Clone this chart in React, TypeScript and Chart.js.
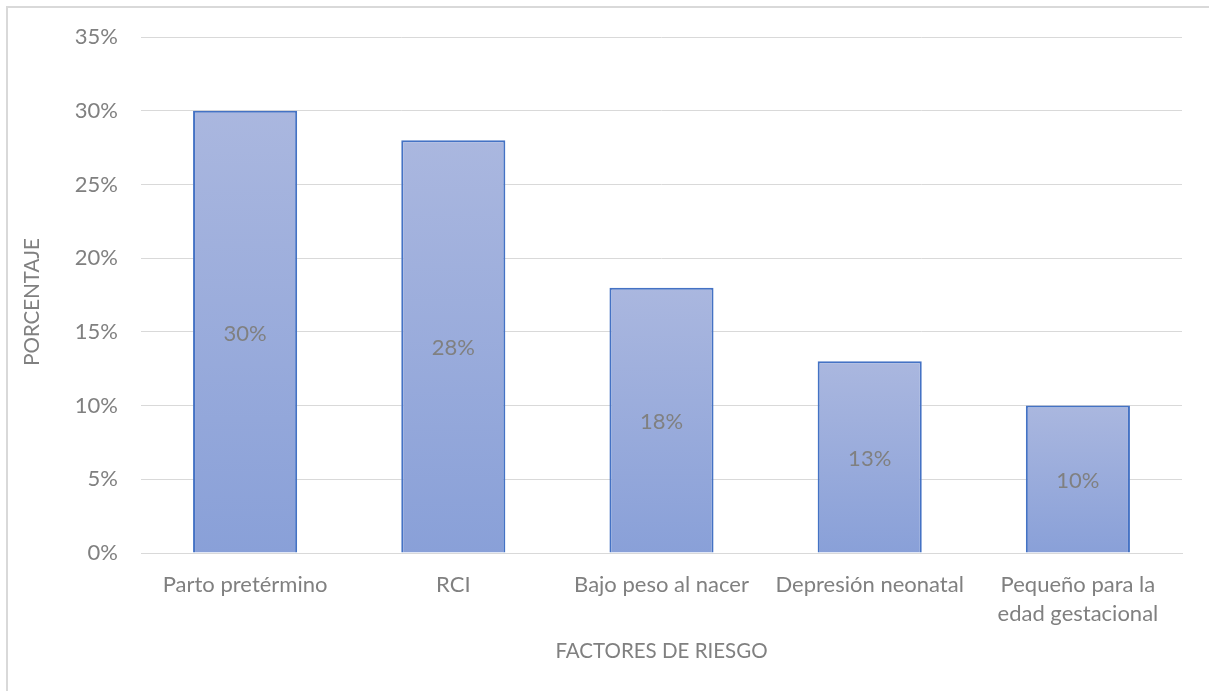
import React, { useEffect, useRef } from "react";
import { Chart, registerables } from "chart.js";

Chart.register(...registerables);

const categories: (string | string[])[] = [
  "Parto pretérmino",
  "RCI",
  "Bajo peso al nacer",
  "Depresión neonatal",
  ["Pequeño para la", "edad gestacional"],
];
const values: number[] = [30, 28, 18, 13, 10];
const yTicks: number[] = [0, 5, 10, 15, 20, 25, 30, 35];
const xTitle = "FACTORES DE RIESGO";
const yTitle = "PORCENTAJE";

const FONT = "Lato, 'Open Sans', sans-serif";
const TEXT = "#808080";
const FS = 22;
const TITLE_FS = 20.5;

const labelsPlugin = {
  id: "customLabels",
  afterDatasetsDraw(chart: any) {
    const ctx = chart.ctx;
    const meta = chart.getDatasetMeta(0);
    ctx.save();
    ctx.font = `${FS}px ${FONT}`;
    ctx.fillStyle = TEXT;
    ctx.textAlign = "center";
    ctx.textBaseline = "middle";
    meta.data.forEach((bar: any, i: number) => {
      const yMid = (bar.y + bar.base) / 2;
      ctx.fillText(values[i] + "%", bar.x, yMid + 2);
    });
    const ca = chart.chartArea;
    ctx.font = `${TITLE_FS}px ${FONT}`;
    ctx.fillText(xTitle, (ca.left + ca.right) / 2, 651);
    ctx.translate(32, 302);
    ctx.rotate(-Math.PI / 2);
    ctx.fillText(yTitle, 0, 0);
    ctx.restore();
  },
};

export default function App() {
  const ref = useRef<HTMLCanvasElement | null>(null);
  useEffect(() => {
    if (!ref.current) return;
    const chart = new Chart(ref.current, {
      type: "bar",
      data: {
        labels: categories,
        datasets: [
          {
            data: values,
            backgroundColor: (c: any) => {
              const chartObj = c.chart;
              const ys = chartObj.scales && chartObj.scales.y;
              if (!ys || c.dataIndex === undefined) return "#9aacdc";
              const top = ys.getPixelForValue(values[c.dataIndex]);
              const bottom = ys.getPixelForValue(0);
              if (!isFinite(top) || !isFinite(bottom) || top >= bottom) return "#9aacdc";
              const g = chartObj.ctx.createLinearGradient(0, top, 0, bottom);
              g.addColorStop(0, "#aab7df");
              g.addColorStop(1, "#89a0d8");
              return g;
            },
            borderColor: "#4472c4",
            borderWidth: 2,
            barPercentage: 0.5,
            categoryPercentage: 1,
          },
        ],
      },
      options: {
        animation: false,
        responsive: false,
        maintainAspectRatio: false,
        layout: { padding: { left: 0, top: 37, right: 27, bottom: 0 } },
        plugins: {
          legend: { display: false },
          tooltip: { enabled: false },
        },
        scales: {
          x: {
            grid: { display: false, drawTicks: false },
            border: { display: true, color: "#d9d9d9", width: 1 },
            ticks: {
              color: TEXT,
              font: { family: FONT, size: FS, lineHeight: 1.3 },
              padding: 18,
              maxRotation: 0,
              autoSkip: false,
            },
            afterFit: (s: any) => {
              s.height = 691 - 553;
            },
          },
          y: {
            min: 0,
            max: 35,
            afterBuildTicks: (s: any) => {
              s.ticks = yTicks.map((v) => ({ value: v }));
            },
            grid: { color: "#d9d9d9", lineWidth: 1, drawTicks: false },
            border: { display: false },
            ticks: {
              color: TEXT,
              font: { family: FONT, size: FS },
              padding: 23,
              callback: (v: any) => v + "%",
            },
            afterFit: (s: any) => {
              s.width = 141;
            },
          },
        },
      },
      plugins: [labelsPlugin],
    } as any);
    return () => chart.destroy();
  }, []);
  return (
    <div style={{ position: "fixed", left: 0, top: 0, width: 1209, height: 691, background: "#fff" }}>
      <div
        style={{
          position: "absolute",
          left: 6,
          top: 6,
          width: 1220,
          height: 700,
          borderLeft: "2px solid #d9d9d9",
          borderTop: "2px solid #d9d9d9",
        }}
      />
      <canvas ref={ref} width={1209} height={691} style={{ position: "absolute", left: 0, top: 0 }} />
    </div>
  );
}
